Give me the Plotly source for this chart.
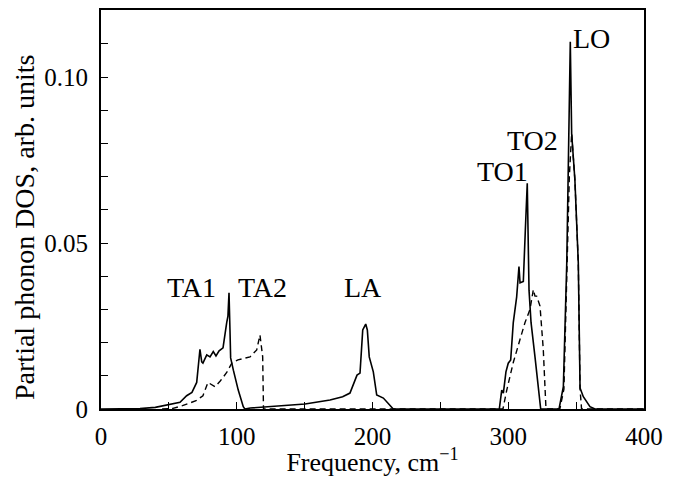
import plotly.graph_objects as go

# Solid curve (frequency cm^-1, DOS)
solid_x = [0, 20, 28.7, 40, 48.6, 58.2, 63.1, 67, 70.5, 72.9, 74.2, 75.1, 77.9, 80.3, 82.7, 84.7,
           87, 89.9, 90.1, 91.3, 92.6, 93.5, 94.3, 95.0, 95.5, 97.5, 101.1, 104.8, 106,
           110, 120, 131.9, 150.3, 168.7, 178, 183.4, 185.6, 188.6, 190.8, 192.8, 195.0, 196.2,
           197.6, 200.6, 203.1, 208.0, 215.3, 230, 260, 290, 293.4, 295.2, 296.4, 298.3, 300.0, 301.8,
           303.7, 306.2, 307.9, 308.7, 311.1, 312.6, 314.0, 315.3, 316.8, 319.7, 322.1, 323.9,
           337.4, 340.6, 343.1, 344.8, 345.7, 346.7, 349.1, 351.6, 352.9, 355.3, 360.2, 363.9, 400]
solid_y = [0, 0, 0.0001, 0.0005, 0.0012, 0.002, 0.004, 0.005, 0.008, 0.018, 0.0142, 0.0138, 0.0163, 0.0157, 0.0173, 0.016,
           0.0175, 0.0184, 0.019, 0.0229, 0.026, 0.028, 0.035, 0.024, 0.0154, 0.0117, 0.0057, 0.0007, 0.0,
           0.0003, 0.0006, 0.001, 0.0015, 0.0027, 0.0037, 0.0048, 0.0072, 0.0102, 0.0108, 0.0238, 0.0256, 0.0238,
           0.0157, 0.0112, 0.0042, 0.0033, 0.0, 0, 0, 0, 0.0, 0.0057, 0.0048, 0.0112, 0.0138, 0.0148,
           0.026, 0.0338, 0.0429, 0.038, 0.0384, 0.054, 0.068, 0.0358, 0.026, 0.0157, 0.0057, 0.0,
           0.0, 0.0067, 0.044, 0.081, 0.1106, 0.083, 0.069, 0.044, 0.0063, 0.0037, 0.0007, 0.0, 0]

# Dashed curve
dashed_x = [45, 53, 60, 65.6, 70, 75.1, 78.8, 84.0, 88, 92.6, 96.3, 100.9, 105, 109.8, 114.7, 117.1, 119.1, 119.7,
            150, 290, 296.1, 298.9, 303.7, 308.7, 312.3, 316.0, 318.5, 319.7, 320.9, 323.4, 325.8, 327.8,
            338, 341, 343.5, 345, 346.7, 349.1, 351.6, 352.9, 354, 400]
dashed_y = [0, 0.0002, 0.001, 0.0019, 0.0025, 0.004, 0.008, 0.0067, 0.0085, 0.011, 0.0138, 0.0148, 0.0152, 0.0157, 0.0178, 0.0223, 0.0157, 0.0,
            0.0, 0.0, 0.0, 0.0057, 0.014, 0.021, 0.026, 0.030, 0.036, 0.034, 0.034, 0.031, 0.018, 0.0,
            0.0, 0.006, 0.044, 0.070, 0.083, 0.069, 0.044, 0.006, 0.0, 0]

label_text = ["TA1", "TA2", "LA", "TO1", "TO2", "LO"]
label_x = [67, 118.6, 193, 296, 317.5, 361]
label_y = [0.0367, 0.0367, 0.0367, 0.0714, 0.0810, 0.1117]

x_tickvals = [0, 100, 200, 300, 400]
y_tickvals = [0, 0.05, 0.10]
y_ticktext = ["0", "0.05", "0.10"]

FONT = "Liberation Serif, Times New Roman, serif"

fig = go.Figure()
fig.add_trace(go.Scatter(x=dashed_x, y=dashed_y, mode="lines",
                         line=dict(color="black", width=1.4, dash="6px,4px")))
fig.add_trace(go.Scatter(x=solid_x, y=solid_y, mode="lines",
                         line=dict(color="black", width=1.6)))

for t, x, y in zip(label_text, label_x, label_y):
    fig.add_annotation(x=x, y=y, text=t, showarrow=False,
                       font=dict(family=FONT, size=28, color="black"))

# y-axis title, placed slightly below the plot centre as in the reference
fig.add_annotation(text="Partial phonon DOS, arb. units", textangle=-90,
                   xref="paper", yref="paper", x=-0.142, y=0.456,
                   xanchor="center", yanchor="middle",
                   showarrow=False, font=dict(family=FONT, size=28, color="black"))

# page has an 8px body margin: figure is drawn at (8,8)
fig.update_layout(
    width=669, height=469,
    margin=dict(l=93, r=33, t=2, b=68, autoexpand=False),
    plot_bgcolor="white", paper_bgcolor="white",
    showlegend=False,
    font=dict(family=FONT, size=25, color="black"),
)
fig.update_xaxes(
    range=[0, 400], tickvals=x_tickvals, ticks="inside", ticklen=7, tickwidth=1.2,
    minor=dict(dtick=50, ticks="inside", ticklen=7, tickwidth=1.2, tickcolor="black"),
    tickcolor="black", automargin=False, ticklabelstandoff=4,
    showline=True, linecolor="black", linewidth=2, mirror=True, showgrid=False, zeroline=False,
    title=dict(text="Frequency, cm<sup>−1</sup>", font=dict(size=26), standoff=4),
    tickfont=dict(size=25),
)
fig.update_yaxes(
    range=[0, 0.1202], tickvals=y_tickvals, ticktext=y_ticktext, ticks="inside", ticklen=7, tickwidth=1.2,
    minor=dict(dtick=0.01, ticks="inside", ticklen=7, tickwidth=1.2, tickcolor="black"),
    tickcolor="black", automargin=False, ticklabelstandoff=6,
    showline=True, linecolor="black", linewidth=2, mirror=True, showgrid=False, zeroline=False,
    tickfont=dict(size=25),
)

fig.write_html("out.html")
